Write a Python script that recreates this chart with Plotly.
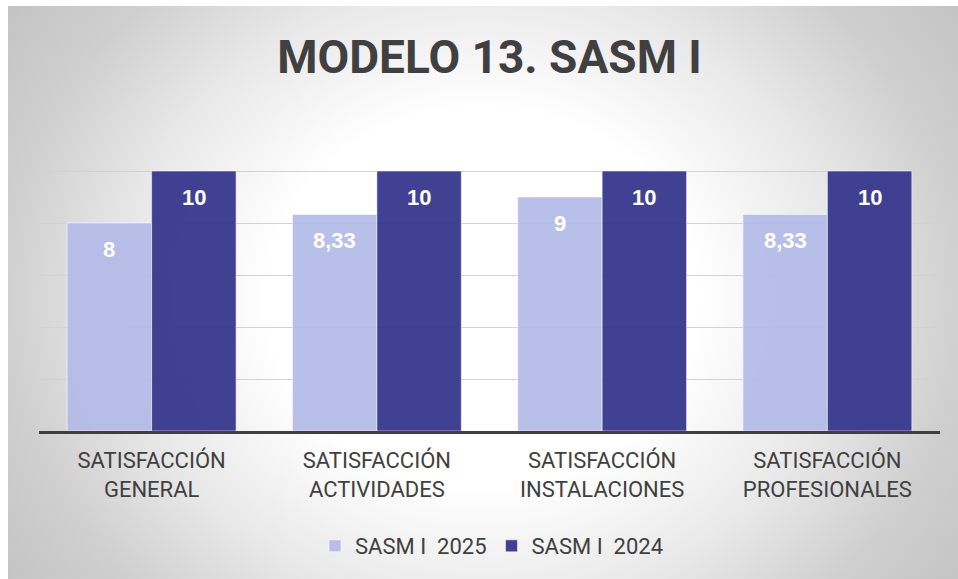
import base64
import plotly.graph_objects as go

# ---- data ----
categories = ["SATISFACCIÓN<br>GENERAL", "SATISFACCIÓN<br>ACTIVIDADES",
              "SATISFACCIÓN<br>INSTALACIONES", "SATISFACCIÓN<br>PROFESIONALES"]
series_names = ["SASM I  2025", "SASM I  2024"]
values_2025 = [8, 8.33, 9, 8.33]
values_2024 = [10, 10, 10, 10]
title_text = "MODELO 13. SASM I"

# ---- style ----
W, H = 950, 573          # page offset (8px left, 6px top) gives the white strip
ML, MR, MT, MB = 31, 18, 113, 148
colors = ["rgba(178,187,232,0.92)", "rgba(52,53,140,0.94)"]
BARGAP = 0.25
txt_color = "#404040"

def fmt(v):
    return f"{v:g}".replace(".", ",")

# radial gradient background as svg image
svg = f'''<svg xmlns="http://www.w3.org/2000/svg" width="{W}" height="{H}" preserveAspectRatio="none">
<defs><radialGradient id="g" gradientUnits="userSpaceOnUse" cx="475" cy="292" r="576"
 gradientTransform="translate(475,292) scale(1,0.875) translate(-475,-292)">
<stop offset="0" stop-color="#ffffff"/><stop offset="0.375" stop-color="#ffffff"/>
<stop offset="0.625" stop-color="#e8e8e8"/><stop offset="0.833" stop-color="#cfcfcf"/>
<stop offset="1" stop-color="#c4c4c4"/></radialGradient></defs>
<rect width="{W}" height="{H}" fill="url(#g)"/></svg>'''
svg_uri = "data:image/svg+xml;base64," + base64.b64encode(svg.encode()).decode()

pw = W - ML - MR
ph = H - MT - MB

fig = go.Figure()
all_vals = [values_2025, values_2024]
for name, vals, col in zip(series_names, all_vals, colors):
    fig.add_trace(go.Bar(
        x=categories, y=vals, name=name,
        marker=dict(color=col, line=dict(color="rgba(255,255,255,0.55)", width=1)),
        hoverinfo="skip",
    ))

# data labels via annotations
bar_w = (1 - BARGAP) / 2
annotations = []
for k, vals in enumerate(all_vals):
    off = -bar_w / 2 if k == 0 else bar_w / 2
    for i, v in enumerate(vals):
        annotations.append(dict(
            x=i + off, y=v, xref="x", yref="y", text=fmt(v), showarrow=False,
            yanchor="middle", yshift=-26,
            font=dict(family="Liberation Sans, Arial", size=22, color="white", weight="bold"),
        ))

fig.update_layout(
    width=W, height=H,
    margin=dict(l=ML, r=MR, t=MT, b=MB),
    paper_bgcolor="white", plot_bgcolor="rgba(0,0,0,0)",
    barmode="group", bargap=BARGAP, bargroupgap=0,
    title=dict(text=title_text, x=0.5, xref="paper", xanchor="center",
               y=1 - 51 / H, yanchor="middle",
               font=dict(family="Roboto", size=46, color=txt_color, weight="bold")),
    xaxis=dict(showline=True, linecolor="#404040", linewidth=3, ticks="",
               tickfont=dict(family="Roboto", size=22, color=txt_color),
               ticklabelstandoff=8, showgrid=False, fixedrange=True),
    yaxis=dict(range=[0, 12], dtick=2, showgrid=True, gridcolor="#d2d2d2", gridwidth=1,
               showticklabels=False, zeroline=False, fixedrange=True),
    legend=dict(orientation="h", x=0.5 + 2 / pw, xanchor="center", y=-115 / ph, yanchor="middle",
                font=dict(family="Roboto", size=22, color=txt_color),
                bgcolor="rgba(0,0,0,0)", itemwidth=30, traceorder="normal"),
    annotations=annotations,
    images=[dict(source=svg_uri, xref="paper", yref="paper",
                 x=-ML / pw, y=(H - MB) / ph, sizex=W / pw, sizey=H / ph,
                 xanchor="left", yanchor="top", sizing="stretch", layer="below")],
    separators=",.",
    showlegend=True,
)

post = ("document.body.style.margin='6px 0 0 8px';"
        "document.body.style.overflow='hidden';"
        "document.documentElement.style.overflow='hidden';")
fig.write_html("out.html", post_script=post)
